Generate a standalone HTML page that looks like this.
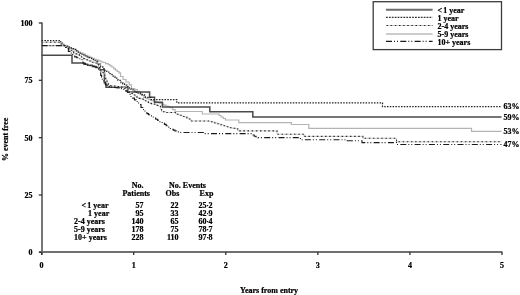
<!DOCTYPE html>
<html><head><meta charset="utf-8"><style>
html,body{margin:0;padding:0;background:#fff;width:520px;height:295px;overflow:hidden}
svg{display:block;filter:grayscale(1)}
</style></head><body>
<svg width="520" height="295" viewBox="0 0 520 295">
<rect width="520" height="295" fill="#fff"/>
<g stroke="#707070" stroke-width="1.9" fill="none"><path d="M42.0,22.6 L42.0,254.8 M39.2,252.0 L502.4,252.0"/><path d="M38.8,23.00 L42,23.00" stroke-width="1.3" stroke="#333"/><path d="M38.8,80.32 L42,80.32" stroke-width="1.3" stroke="#333"/><path d="M38.8,137.65 L42,137.65" stroke-width="1.3" stroke="#333"/><path d="M38.8,194.98 L42,194.98" stroke-width="1.3" stroke="#333"/><path d="M38.8,252.30 L42,252.30" stroke-width="1.3" stroke="#333"/><path d="M41.60,252 L41.60,255" stroke-width="1.3" stroke="#333"/><path d="M133.68,252 L133.68,255" stroke-width="1.3" stroke="#333"/><path d="M225.76,252 L225.76,255" stroke-width="1.3" stroke="#333"/><path d="M317.84,252 L317.84,255" stroke-width="1.3" stroke="#333"/><path d="M409.92,252 L409.92,255" stroke-width="1.3" stroke="#333"/><path d="M502.00,252 L502.00,255" stroke-width="1.3" stroke="#333"/></g><path d="M41.60,45.60 L62.60,45.60 L62.60,44.50 L64.30,44.50 L64.30,45.40 L66.00,45.40 L66.00,46.30 L67.92,46.30 L67.92,47.17 L69.85,47.17 L69.85,48.05 L71.78,48.05 L71.78,48.92 L73.70,48.92 L73.70,49.80 L76.03,49.80 L76.03,50.90 L78.35,50.90 L78.35,52.00 L80.67,52.00 L80.67,53.10 L83.00,53.10 L83.00,54.20 L85.33,54.20 L85.33,55.23 L87.67,55.23 L87.67,56.27 L90.00,56.27 L90.00,57.30 L92.20,57.30 L92.20,58.27 L94.40,58.27 L94.40,59.23 L96.60,59.23 L96.60,60.20 L98.73,60.20 L98.73,60.97 L100.87,60.97 L100.87,61.73 L103.00,61.73 L103.00,62.50 L105.65,62.50 L105.65,63.55 L108.30,63.55 L108.30,64.60 L110.10,64.60 L110.10,65.80 L111.90,65.80 L111.90,67.00 L113.65,67.00 L113.65,68.60 L115.40,68.60 L115.40,70.20 L117.20,70.20 L117.20,71.50 L119.00,71.50 L119.00,72.80 L120.50,72.80 L120.50,76.50 L123.00,76.50 L123.00,79.50 L126.00,79.50 L126.00,82.00 L129.20,82.00 L129.20,84.80 L131.50,84.80 L131.50,88.50 L134.70,88.50 L134.70,89.60 L137.35,89.60 L137.35,91.30 L140.00,91.30 L140.00,93.00 L141.90,93.00 L141.90,95.25 L143.80,95.25 L143.80,97.50 L145.87,97.50 L145.87,98.33 L147.93,98.33 L147.93,99.17 L150.00,99.17 L150.00,100.00 L152.00,100.00 L152.00,100.70 L154.00,100.70 L154.00,101.40 L156.00,101.40 L156.00,102.10 L158.00,102.10 L158.00,102.80 L160.00,102.80 L160.00,103.50 L162.00,103.50 L162.00,104.33 L164.00,104.33 L164.00,105.17 L166.00,105.17 L166.00,106.00 L168.20,106.00 L168.20,106.85 L170.40,106.85 L170.40,107.70 L172.75,107.70 L172.75,109.60 L175.10,109.60 L175.10,111.50 L202.30,111.50 L202.30,114.00 L217.30,114.00 L219.15,114.00 L219.15,115.50 L221.00,115.50 L221.00,117.00 L223.20,117.00 L223.20,118.50 L225.40,118.50 L225.40,120.00 L238.80,120.00 L238.80,122.60 L291.40,122.60 L291.40,124.50 L308.80,124.50 L308.80,128.40 L471.50,128.40 L471.50,131.40 L501.50,131.40" fill="none" stroke="#b4b4b4" stroke-width="1.2"/><path d="M41.60,55.20 L72.00,55.20 L72.00,63.00 L84.00,63.00 L84.00,64.20 L87.60,64.20 L87.60,65.30 L92.30,65.30 L92.30,66.40 L96.00,66.40 L96.00,67.60 L99.80,67.60 L99.80,69.80 L104.40,69.80 L104.40,83.00 L106.00,83.00 L106.00,87.30 L127.50,87.30 L127.50,92.10 L149.60,92.10 L149.60,97.20 L154.50,97.20 L154.50,102.30 L162.50,102.30 L162.50,107.10 L209.80,107.10 L209.80,111.80 L252.80,111.80 L252.80,116.90 L501.50,116.90" fill="none" stroke="#4a4a4a" stroke-width="1.5"/><path d="M41.60,40.50 L60.70,40.50 L60.70,43.00 L63.50,43.00 L63.50,45.80 L65.20,45.80 L65.20,46.00 L66.90,46.00 L66.90,46.20 L69.10,46.20 L69.10,47.10 L71.30,47.10 L71.30,48.00 L73.05,48.00 L73.05,48.65 L74.80,48.65 L74.80,49.30 L76.55,49.30 L76.55,50.85 L78.30,50.85 L78.30,52.40 L80.10,52.40 L80.10,53.25 L81.90,53.25 L81.90,54.10 L83.65,54.10 L83.65,54.95 L85.40,54.95 L85.40,55.80 L87.15,55.80 L87.15,56.75 L88.90,56.75 L88.90,57.70 L91.60,57.70 L91.60,59.30 L93.35,59.30 L93.35,60.30 L95.10,60.30 L95.10,61.30 L97.80,61.30 L97.80,64.00 L100.70,64.00 L100.70,66.50 L102.75,66.50 L102.75,68.50 L104.80,68.50 L104.80,70.50 L106.80,70.50 L106.80,72.05 L108.80,72.05 L108.80,73.60 L112.00,73.60 L112.00,76.00 L113.70,76.00 L113.70,77.10 L115.40,77.10 L115.40,78.20 L118.00,78.20 L118.00,80.30 L121.00,80.30 L121.00,82.70 L122.75,82.70 L122.75,83.95 L124.50,83.95 L124.50,85.20 L126.85,85.20 L126.85,86.55 L129.20,86.55 L129.20,87.90 L131.10,87.90 L131.10,89.45 L133.00,89.45 L133.00,91.00 L135.60,91.00 L135.60,92.10 L138.20,92.10 L138.20,93.20 L140.30,93.20 L140.30,94.70 L142.30,94.70 L142.30,94.95 L144.30,94.95 L144.30,95.20 L145.40,95.20 L145.40,97.30 L148.40,97.30 L151.00,97.30 L151.00,99.60 L176.80,99.60 L176.80,102.90 L382.50,102.90 L382.50,106.70 L501.50,106.70" fill="none" stroke="#222" stroke-width="1.25" stroke-dasharray="1.5 1.3"/><path d="M41.60,42.20 L60.30,42.20 L60.30,44.00 L63.90,44.00 L63.90,46.50 L66.20,46.50 L66.20,47.50 L68.08,47.50 L68.08,48.88 L69.95,48.88 L69.95,50.25 L71.83,50.25 L71.83,51.62 L73.70,51.62 L73.70,53.00 L75.57,53.00 L75.57,53.83 L77.43,53.83 L77.43,54.67 L79.30,54.67 L79.30,55.50 L81.45,55.50 L81.45,57.05 L83.60,57.05 L83.60,58.60 L85.40,58.60 L85.40,59.45 L87.20,59.45 L87.20,60.30 L88.95,60.30 L88.95,60.95 L90.70,60.95 L90.70,61.60 L92.45,61.60 L92.45,62.30 L94.20,62.30 L94.20,63.00 L96.90,63.00 L96.90,64.30 L98.60,64.30 L98.60,69.20 L100.80,69.20 L100.80,71.00 L103.00,71.00 L103.00,72.80 L104.80,72.80 L104.80,76.30 L105.70,76.30 L105.70,79.80 L107.00,79.80 L107.00,83.00 L108.50,83.00 L108.50,85.60 L110.67,85.60 L110.67,85.80 L112.83,85.80 L112.83,86.00 L115.00,86.00 L115.00,86.20 L116.75,86.20 L116.75,86.53 L118.50,86.53 L118.50,86.85 L120.25,86.85 L120.25,87.17 L122.00,87.17 L122.00,87.50 L124.50,87.50 L124.50,88.25 L127.00,88.25 L127.00,89.00 L129.00,89.00 L129.00,92.00 L131.00,92.00 L131.00,93.50 L133.00,93.50 L133.00,95.00 L135.00,95.00 L135.00,96.25 L137.00,96.25 L137.00,97.50 L139.10,97.50 L139.10,98.33 L141.20,98.33 L141.20,99.15 L143.30,99.15 L143.30,99.97 L145.40,99.97 L145.40,100.80 L146.90,100.80 L146.90,101.85 L148.40,101.85 L148.40,102.90 L149.95,102.90 L149.95,103.40 L151.50,103.40 L151.50,103.90 L153.50,103.90 L153.50,104.15 L155.50,104.15 L155.50,104.40 L157.05,104.40 L157.05,105.40 L158.60,105.40 L158.60,106.40 L160.60,106.40 L160.60,109.50 L161.60,109.50 L161.60,111.70 L166.00,111.70 L166.00,112.50 L175.40,112.50 L175.40,113.30 L177.30,113.30 L177.30,114.25 L179.20,114.25 L179.20,115.20 L181.13,115.20 L181.13,115.83 L183.07,115.83 L183.07,116.47 L185.00,116.47 L185.00,117.10 L186.90,117.10 L186.90,118.05 L188.80,118.05 L188.80,119.00 L190.80,119.00 L190.80,121.00 L208.00,121.00 L209.95,121.00 L209.95,121.50 L211.90,121.50 L211.90,122.00 L214.80,122.00 L214.80,122.90 L217.70,122.90 L217.70,123.80 L220.60,123.80 L220.60,124.80 L223.50,124.80 L223.50,125.80 L226.35,125.80 L226.35,126.75 L229.20,126.75 L229.20,127.70 L232.07,127.70 L232.07,128.23 L234.93,128.23 L234.93,128.77 L237.80,128.77 L237.80,129.30 L237.80,130.90 L277.00,130.90 L277.00,134.20 L304.00,134.20 L304.00,136.40 L362.90,136.40 L362.90,138.30 L396.50,138.30 L396.50,141.80 L501.50,141.80" fill="none" stroke="#c4c4c4" stroke-width="0.9"/><path d="M41.60,42.20 L60.30,42.20 L60.30,44.00 L63.90,44.00 L63.90,46.50 L66.20,46.50 L66.20,47.50 L68.08,47.50 L68.08,48.88 L69.95,48.88 L69.95,50.25 L71.83,50.25 L71.83,51.62 L73.70,51.62 L73.70,53.00 L75.57,53.00 L75.57,53.83 L77.43,53.83 L77.43,54.67 L79.30,54.67 L79.30,55.50 L81.45,55.50 L81.45,57.05 L83.60,57.05 L83.60,58.60 L85.40,58.60 L85.40,59.45 L87.20,59.45 L87.20,60.30 L88.95,60.30 L88.95,60.95 L90.70,60.95 L90.70,61.60 L92.45,61.60 L92.45,62.30 L94.20,62.30 L94.20,63.00 L96.90,63.00 L96.90,64.30 L98.60,64.30 L98.60,69.20 L100.80,69.20 L100.80,71.00 L103.00,71.00 L103.00,72.80 L104.80,72.80 L104.80,76.30 L105.70,76.30 L105.70,79.80 L107.00,79.80 L107.00,83.00 L108.50,83.00 L108.50,85.60 L110.67,85.60 L110.67,85.80 L112.83,85.80 L112.83,86.00 L115.00,86.00 L115.00,86.20 L116.75,86.20 L116.75,86.53 L118.50,86.53 L118.50,86.85 L120.25,86.85 L120.25,87.17 L122.00,87.17 L122.00,87.50 L124.50,87.50 L124.50,88.25 L127.00,88.25 L127.00,89.00 L129.00,89.00 L129.00,92.00 L131.00,92.00 L131.00,93.50 L133.00,93.50 L133.00,95.00 L135.00,95.00 L135.00,96.25 L137.00,96.25 L137.00,97.50 L139.10,97.50 L139.10,98.33 L141.20,98.33 L141.20,99.15 L143.30,99.15 L143.30,99.97 L145.40,99.97 L145.40,100.80 L146.90,100.80 L146.90,101.85 L148.40,101.85 L148.40,102.90 L149.95,102.90 L149.95,103.40 L151.50,103.40 L151.50,103.90 L153.50,103.90 L153.50,104.15 L155.50,104.15 L155.50,104.40 L157.05,104.40 L157.05,105.40 L158.60,105.40 L158.60,106.40 L160.60,106.40 L160.60,109.50 L161.60,109.50 L161.60,111.70 L166.00,111.70 L166.00,112.50 L175.40,112.50 L175.40,113.30 L177.30,113.30 L177.30,114.25 L179.20,114.25 L179.20,115.20 L181.13,115.20 L181.13,115.83 L183.07,115.83 L183.07,116.47 L185.00,116.47 L185.00,117.10 L186.90,117.10 L186.90,118.05 L188.80,118.05 L188.80,119.00 L190.80,119.00 L190.80,121.00 L208.00,121.00 L209.95,121.00 L209.95,121.50 L211.90,121.50 L211.90,122.00 L214.80,122.00 L214.80,122.90 L217.70,122.90 L217.70,123.80 L220.60,123.80 L220.60,124.80 L223.50,124.80 L223.50,125.80 L226.35,125.80 L226.35,126.75 L229.20,126.75 L229.20,127.70 L232.07,127.70 L232.07,128.23 L234.93,128.23 L234.93,128.77 L237.80,128.77 L237.80,129.30 L237.80,130.90 L277.00,130.90 L277.00,134.20 L304.00,134.20 L304.00,136.40 L362.90,136.40 L362.90,138.30 L396.50,138.30 L396.50,141.80 L501.50,141.80" fill="none" stroke="#2a2a2a" stroke-width="1.1" stroke-dasharray="1.5 2.65"/><path d="M41.60,45.60 L63.90,45.60 L65.60,45.60 L65.60,48.20 L68.40,48.20 L68.40,51.40 L71.30,51.40 L71.30,54.30 L72.70,54.30 L72.70,56.00 L74.76,56.00 L74.76,56.90 L76.82,56.90 L76.82,57.80 L78.88,57.80 L78.88,58.70 L80.94,58.70 L80.94,59.60 L83.00,59.60 L83.00,60.50 L83.00,63.30 L85.30,63.30 L85.30,64.25 L87.60,64.25 L87.60,65.20 L89.95,65.20 L89.95,65.65 L92.30,65.65 L92.30,66.10 L94.17,66.10 L94.17,66.73 L96.03,66.73 L96.03,67.37 L97.90,67.37 L97.90,68.00 L99.80,68.00 L99.80,69.90 L100.70,69.90 L100.70,75.40 L101.60,75.40 L101.60,79.20 L103.50,79.20 L103.50,82.00 L105.40,82.00 L105.40,84.80 L107.20,84.80 L107.20,86.60 L109.36,86.60 L109.36,86.88 L111.52,86.88 L111.52,87.16 L113.68,87.16 L113.68,87.44 L115.84,87.44 L115.84,87.72 L118.00,87.72 L118.00,88.00 L120.00,88.00 L120.00,88.67 L122.00,88.67 L122.00,89.33 L124.00,89.33 L124.00,90.00 L125.85,90.00 L125.85,91.10 L127.70,91.10 L127.70,92.20 L129.35,92.20 L129.35,94.35 L131.00,94.35 L131.00,96.50 L132.73,96.50 L132.73,98.17 L134.47,98.17 L134.47,99.83 L136.20,99.83 L136.20,101.50 L138.60,101.50 L138.60,104.50 L141.00,104.50 L141.00,107.50 L142.97,107.50 L142.97,109.53 L144.93,109.53 L144.93,111.57 L146.90,111.57 L146.90,113.60 L148.60,113.60 L148.60,114.73 L150.30,114.73 L150.30,115.87 L152.00,115.87 L152.00,117.00 L153.90,117.00 L153.90,118.13 L155.80,118.13 L155.80,119.27 L157.70,119.27 L157.70,120.40 L159.93,120.40 L159.93,121.73 L162.17,121.73 L162.17,123.07 L164.40,123.07 L164.40,124.40 L166.20,124.40 L166.20,125.77 L168.00,125.77 L168.00,127.13 L169.80,127.13 L169.80,128.50 L171.53,128.50 L171.53,129.33 L173.27,129.33 L173.27,130.17 L175.00,130.17 L175.00,131.00 L176.65,131.00 L176.65,131.75 L178.30,131.75 L178.30,132.50 L204.30,132.50 L204.30,133.60 L250.40,133.60 L252.30,133.60 L252.30,134.95 L254.20,134.95 L254.20,136.30 L256.10,136.30 L256.10,136.95 L258.00,136.95 L258.00,137.60 L300.40,137.60 L300.40,139.80 L347.00,139.80 L347.00,140.70 L362.00,140.70 L362.00,142.60 L396.50,142.60 L396.50,144.50 L501.50,144.50" fill="none" stroke="#1a1a1a" stroke-width="1.1" stroke-dasharray="6 2 1 2 1 2.3"/><rect x="373.2" y="1.7" width="128.3" height="47.9" fill="none" stroke="#3c3c3c" stroke-width="1.3"/><path d="M386,9.8 L432.6,9.8" stroke="#6c6c6c" stroke-width="1.9"/><path d="M386,17.4 L432.6,17.4" stroke="#333" stroke-width="1.1" stroke-dasharray="1.8 1.1"/><path d="M386,25.5 L432.6,25.5" stroke="#c4c4c4" stroke-width="0.9"/><path d="M386,25.5 L432.6,25.5" stroke="#2a2a2a" stroke-width="1.1" stroke-dasharray="1.5 2.65" stroke-dashoffset="-0.5"/><path d="M386,34.0 L432.6,34.0" stroke="#bbb" stroke-width="1.5"/><path d="M386,41.4 L432.6,41.4" stroke="#1a1a1a" stroke-width="1.2" stroke-dasharray="6 2 1 2 1 2.3"/>
<g style="font-family:'Liberation Serif',serif;font-weight:bold;font-size:8px" fill="#000" stroke="#000" stroke-width="0.22">
<text x="437.5" y="13.1" text-anchor="start">&lt;<tspan dx="1.2">1</tspan> year</text><text x="437.5" y="21.1" text-anchor="start">1 year</text><text x="437.5" y="29.2" text-anchor="start">2-4 years</text><text x="437.5" y="37.3" text-anchor="start">5-9 years</text><text x="437.5" y="45.4" text-anchor="start">10+ years</text><text x="32.4" y="26.0" text-anchor="end">100</text><text x="32.4" y="83.32" text-anchor="end">75</text><text x="32.4" y="140.65" text-anchor="end">50</text><text x="32.4" y="197.98" text-anchor="end">25</text><text x="32.4" y="255.3" text-anchor="end">0</text><text x="41.6" y="267.6" text-anchor="middle">0</text><text x="133.68" y="267.6" text-anchor="middle">1</text><text x="225.76" y="267.6" text-anchor="middle">2</text><text x="317.84" y="267.6" text-anchor="middle">3</text><text x="409.92" y="267.6" text-anchor="middle">4</text><text x="502.0" y="267.6" text-anchor="middle">5</text><text x="269.1" y="292.9" text-anchor="middle">Years from entry</text><text transform="translate(7.8,139.4) rotate(-90)" text-anchor="middle">% event free</text><text x="503.6" y="109.1" text-anchor="start">63%</text><text x="503.6" y="119.7" text-anchor="start">59%</text><text x="503.6" y="134.2" text-anchor="start">53%</text><text x="503.6" y="147.1" text-anchor="start">47%</text><text x="137.6" y="187.9" text-anchor="middle">No.</text><text x="136.2" y="195.9" text-anchor="middle">Patients</text><text x="187.5" y="188.0" text-anchor="middle">No. Events</text><text x="172.5" y="195.9" text-anchor="middle">Obs</text><text x="206.5" y="195.9" text-anchor="middle">Exp</text><text x="81.6" y="208.3" text-anchor="start">&lt;<tspan dx="1.2">1</tspan> year</text><text x="143.6" y="208.3" text-anchor="end">57</text><text x="178.6" y="208.3" text-anchor="end">22</text><text x="212.4" y="208.3" text-anchor="end">25<tspan stroke-width="0" dx="-0.4">·</tspan><tspan dx="-0.4">2</tspan></text><text x="88.1" y="216.2" text-anchor="start">1 year</text><text x="143.6" y="216.2" text-anchor="end">95</text><text x="178.6" y="216.2" text-anchor="end">33</text><text x="212.4" y="216.2" text-anchor="end">42<tspan stroke-width="0" dx="-0.4">·</tspan><tspan dx="-0.4">9</tspan></text><text x="74.1" y="224.2" text-anchor="start">2-4 years</text><text x="143.6" y="224.2" text-anchor="end">140</text><text x="178.6" y="224.2" text-anchor="end">65</text><text x="212.4" y="224.2" text-anchor="end">60<tspan stroke-width="0" dx="-0.4">·</tspan><tspan dx="-0.4">4</tspan></text><text x="74.1" y="232.1" text-anchor="start">5-9 years</text><text x="143.6" y="232.1" text-anchor="end">178</text><text x="178.6" y="232.1" text-anchor="end">75</text><text x="212.4" y="232.1" text-anchor="end">78<tspan stroke-width="0" dx="-0.4">·</tspan><tspan dx="-0.4">7</tspan></text><text x="74.1" y="240.1" text-anchor="start">10+ years</text><text x="143.6" y="240.1" text-anchor="end">228</text><text x="178.6" y="240.1" text-anchor="end">110</text><text x="212.4" y="240.1" text-anchor="end">97<tspan stroke-width="0" dx="-0.4">·</tspan><tspan dx="-0.4">8</tspan></text>
</g>
</svg>
</body></html>
